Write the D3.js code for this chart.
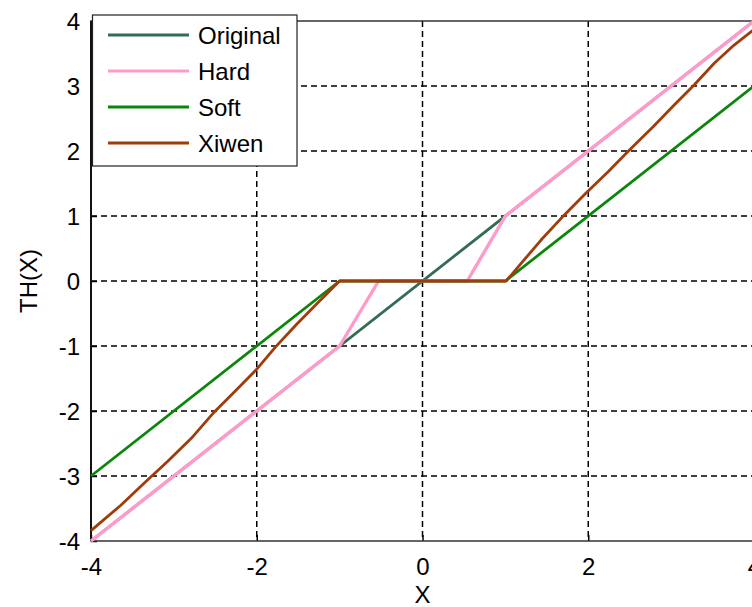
<!DOCTYPE html>
<html>
<head>
<meta charset="utf-8">
<script src="https://cdn.jsdelivr.net/npm/d3@7"></script>
<style>
  body { margin: 0; background: #fff; }
  text { font-family: Arial, "Liberation Sans", sans-serif; font-size: 24px; fill: #000; }
</style>
</head>
<body>
<script>
// values
const xTicks = [-4, -2, 0, 2, 4]
const yTicks = [-4, -3, -2, -1, 0, 1, 2, 3, 4]

const originalX = [-4, 4]
const originalY = [-4, 4]

const hardX = [-4, -1, -0.53, 0.54, 1, 4]
const hardY = [-4, -1, 0, 0, 1, 4]

const softX = [-4, -1, 1, 4]
const softY = [-3, 0, 0, 3]

const xiwenX = [-4, -3.64, -3.36, -3.08, -2.79, -2.53, -2.25, -2.01, -1.77, -1.53, -1.29, -1,
  1.01, 1.19, 1.43, 1.67, 1.97, 2.24, 2.5, 2.78, 3.04, 3.28, 3.52, 3.76, 4]
const xiwenY = [-3.84, -3.45, -3.11, -2.78, -2.42, -2.04, -1.68, -1.37, -1.01, -0.68, -0.37, 0,
  0, 0.27, 0.63, 0.96, 1.35, 1.68, 2.02, 2.37, 2.71, 3.02, 3.35, 3.63, 3.87]

const seriesNames = ['Original', 'Hard', 'Soft', 'Xiwen']
const colors = ['#336b55', '#ff9acb', '#0a870a', '#a03c0a']
const widths = [2.8, 3.4, 2.8, 2.8]

const series = [
  originalX.map((x, i) => ({x: x, y: originalY[i]})),
  hardX.map((x, i) => ({x: x, y: hardY[i]})),
  softX.map((x, i) => ({x: x, y: softY[i]})),
  xiwenX.map((x, i) => ({x: x, y: xiwenY[i]}))
]

const width = 752
const height = 607
const plot = {left: 91, right: 754, top: 21, bottom: 541}

const svg = d3.select('body').append('svg')
  .attr('width', width)
  .attr('height', height)

const xScale = d3.scaleLinear().domain([-4, 4]).range([plot.left, plot.right])
const yScale = d3.scaleLinear().domain([-4, 4]).range([plot.bottom, plot.top])

// grid
svg.append('g').selectAll('line')
  .data(xTicks.slice(1, -1))
  .enter().append('line')
  .attr('x1', d => xScale(d)).attr('x2', d => xScale(d))
  .attr('y1', plot.top).attr('y2', plot.bottom)
  .attr('stroke', '#000').attr('stroke-width', 1.5)
  .attr('stroke-dasharray', '6,4')

svg.append('g').selectAll('line')
  .data(yTicks.slice(1, -1))
  .enter().append('line')
  .attr('y1', d => yScale(d)).attr('y2', d => yScale(d))
  .attr('x1', plot.left).attr('x2', plot.right)
  .attr('stroke', '#000').attr('stroke-width', 1.5)
  .attr('stroke-dasharray', '6,4')

// axes
const xAxis = d3.axisBottom(xScale).tickValues(xTicks).tickFormat(d => String(d)).tickSize(-6)
const yAxis = d3.axisLeft(yScale).tickValues(yTicks).tickFormat(d => String(d)).tickSize(-6)

const gx = svg.append('g')
  .attr('transform', `translate(0, ${plot.bottom})`)
  .call(xAxis)
const gy = svg.append('g')
  .attr('transform', `translate(${plot.left}, 0)`)
  .call(yAxis)

gx.select('.domain').remove()
gy.select('.domain').remove()
svg.selectAll('.tick line').attr('stroke', '#000').attr('stroke-width', 1.5)
svg.selectAll('.tick text')
  .attr('font-size', 24)
  .attr('font-family', 'Arial, "Liberation Sans", sans-serif')
  .attr('fill', '#000')
gy.selectAll('.tick text').attr('x', -11).attr('dy', '0.36em')
gx.selectAll('.tick text').attr('y', 34).attr('dy', 0)

// box
svg.append('rect')
  .attr('x', plot.left).attr('y', plot.top)
  .attr('width', plot.right - plot.left).attr('height', plot.bottom - plot.top)
  .attr('fill', 'none').attr('stroke', '#333').attr('stroke-width', 1.5)
svg.append('line')
  .attr('x1', plot.left).attr('x2', plot.left)
  .attr('y1', plot.top).attr('y2', plot.bottom)
  .attr('stroke', '#111').attr('stroke-width', 2)

// curves
const line = d3.line().x(d => xScale(d.x)).y(d => yScale(d.y))

svg.append('g').selectAll('path')
  .data(series)
  .enter().append('path')
  .attr('d', line)
  .attr('fill', 'none')
  .attr('stroke', (d, i) => colors[i])
  .attr('stroke-width', (d, i) => widths[i])
  .attr('stroke-linejoin', 'round')

// axis labels
svg.append('text')
  .attr('x', xScale(0)).attr('y', 603)
  .attr('text-anchor', 'middle')
  .text('X')

svg.append('text')
  .attr('transform', `translate(37, ${yScale(0)}) rotate(-90)`)
  .attr('text-anchor', 'middle')
  .text('TH(X)')

// legend
const legend = svg.append('g')
legend.append('rect')
  .attr('x', 92.5).attr('y', 15)
  .attr('width', 204.5).attr('height', 151)
  .attr('fill', '#fff').attr('stroke', '#222').attr('stroke-width', 1.2)

const rows = legend.selectAll('g.row')
  .data(seriesNames)
  .enter().append('g')
  .attr('class', 'row')
  .attr('transform', (d, i) => `translate(0, ${35 + i * 36})`)

rows.append('line')
  .attr('x1', 108).attr('x2', 189)
  .attr('y1', 0).attr('y2', 0)
  .attr('stroke', (d, i) => colors[i])
  .attr('stroke-width', 2.8)

rows.append('text')
  .attr('x', 198).attr('y', 0)
  .attr('dy', '0.36em')
  .text(d => d)
</script>
</body>
</html>
